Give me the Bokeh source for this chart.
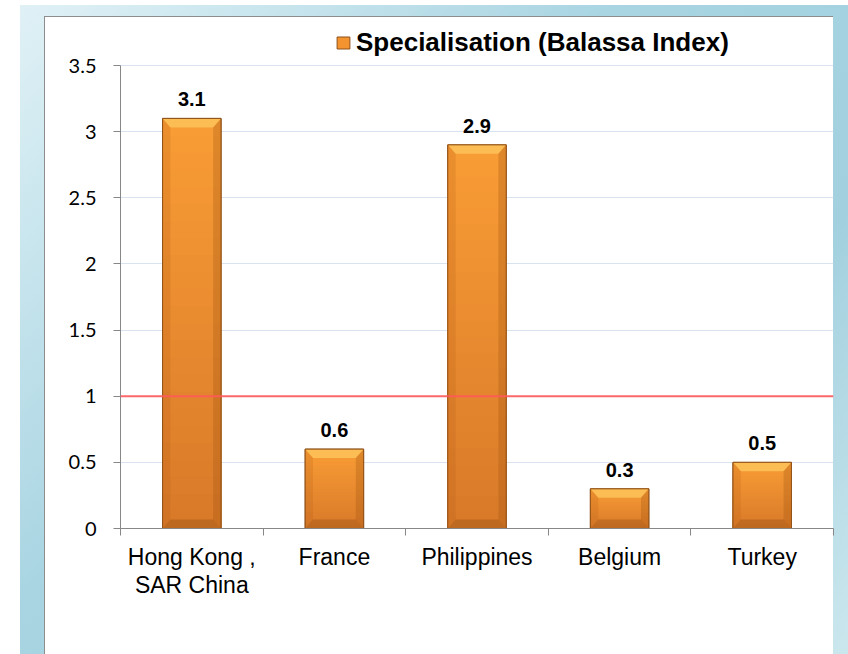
import numpy as np
from bokeh.plotting import figure
from bokeh.models import Range1d, FixedTicker, Legend, LegendItem, Span
from bokeh.core.properties import value
from bokeh.embed import file_html
from bokeh.resources import INLINE

# ---- data ----
countries = ["Hong Kong ,\nSAR China", "France", "Philippines", "Belgium", "Turkey"]
balassa = [3.1, 0.6, 2.9, 0.3, 0.5]
value_labels = ["3.1", "0.6", "2.9", "0.3", "0.5"]
y_ticks = [0.0, 0.5, 1.0, 1.5, 2.0, 2.5, 3.0, 3.5]
y_tick_labels = ["0", "0.5", "1", "1.5", "2", "2.5", "3", "3.5"]
series_name = "Specialisation (Balassa Index)"
threshold = 1.0

# ---- geometry / style ----
xs = np.arange(len(countries), dtype=float)
vals = np.array(balassa, dtype=float)
W = 0.41          # bar width (category units)
BX = 0.055        # bevel inset x (units)
BY = 0.068        # bevel inset y (units)

FIG_W, FIG_H = 848, 654
FR_LEFT, FR_RIGHT, FR_TOP, FR_BOTTOM = 120, 833, 25, 528   # frame in pixels
AXIS_TOP_PX = 65                                            # where 3.5 sits
y_axis_max = max(y_ticks)
y_top = y_axis_max * (FR_BOTTOM - FR_TOP) / (FR_BOTTOM - AXIS_TOP_PX)

frame_css = {
    "background-image": (
        "linear-gradient(#ffffff,#ffffff), "
        "linear-gradient(#8d8d8d,#8d8d8d), "
        "linear-gradient(135deg, #e0f1f6 0%, #a9d5e2 40%, #a2d0de 70%, #cbe7ee 100%)"
    ),
    "background-size": "788px 637px, 789px 638px, 828px 649px",
    "background-position": "45px 17px, 44px 16px, 20px 5px",
    "background-repeat": "no-repeat",
}

p = figure(width=FIG_W, height=FIG_H, output_backend="svg", toolbar_location=None,
           x_range=Range1d(-0.5, len(countries) - 0.5), y_range=Range1d(0, y_top),
           min_border_left=FR_LEFT, min_border_right=FIG_W - FR_RIGHT,
           min_border_top=FR_TOP, min_border_bottom=FIG_H - FR_BOTTOM,
           border_fill_color=None, background_fill_alpha=0, outline_line_color=None,
           styles=frame_css)

# grid
p.xgrid.visible = False
p.ygrid.ticker = FixedTicker(ticks=y_ticks)
p.ygrid.grid_line_color = "#D8E3EF"
p.ygrid.grid_line_width = 1

# base bars (also legend glyph)
left = xs - W / 2
right = xs + W / 2
base = p.quad(left=left, right=right, bottom=0, top=vals,
              fill_color="#F39430", line_color="#8E5019", line_width=1)

# vertical gradient inside each bar
N = 24
top_col = np.array([0xF9, 0x9D, 0x35], dtype=float)
bot_col = np.array([0xD8, 0x79, 0x29], dtype=float)
for k in range(N):
    frac = (N - k) / N
    t = (k + 0.5) / N
    c = top_col * (1 - t) + bot_col * t
    col = "#%02X%02X%02X" % tuple(int(round(v)) for v in c)
    p.quad(left=left, right=right, bottom=0, top=vals * frac,
           fill_color=col, line_color=None)

# bevels
top_xs, top_ys, l_xs, l_ys, r_xs, r_ys, b_xs, b_ys = [], [], [], [], [], [], [], []
for x0, v in zip(xs, vals):
    L, R = x0 - W / 2, x0 + W / 2
    top_xs.append([L, R, R - BX, L + BX]); top_ys.append([v, v, v - BY, v - BY])
    l_xs.append([L, L + BX, L + BX, L]); l_ys.append([v, v - BY, BY, 0])
    r_xs.append([R, R - BX, R - BX, R]); r_ys.append([v, v - BY, BY, 0])
    b_xs.append([L, R, R - BX, L + BX]); b_ys.append([0, 0, BY, BY])
p.patches(xs=top_xs, ys=top_ys, fill_color="#FDC35A", fill_alpha=0.85, line_color=None)
p.patches(xs=l_xs, ys=l_ys, fill_color="#B35A12", fill_alpha=0.20, line_color=None)
p.patches(xs=r_xs, ys=r_ys, fill_color="#9C4E10", fill_alpha=0.28, line_color=None)
p.patches(xs=b_xs, ys=b_ys, fill_color="#7A3C0C", fill_alpha=0.28, line_color=None)
p.quad(left=left, right=right, bottom=0, top=vals,
       fill_color=None, line_color="#8E5019", line_width=1)

# value labels
p.text(x=xs, y=vals, text=value_labels, text_align="center", text_baseline="bottom",
       y_offset=-12, text_font=value("Liberation Sans"), text_font_style="bold",
       text_font_size="20px", text_color="black")

# threshold line
p.add_layout(Span(location=threshold, dimension="width", line_color="#FF5A5A",
                  line_width=2, line_alpha=0.9))

# axes
ax = p.xaxis[0]
ax.ticker = FixedTicker(ticks=list(xs), minor_ticks=[i - 0.5 for i in range(len(countries) + 1)])
ax.major_label_overrides = {float(i): c for i, c in zip(xs, countries)}
ax.major_tick_out = 0
ax.major_tick_in = 0
ax.minor_tick_out = 7
ax.minor_tick_in = 0
ax.minor_tick_line_color = "#878787"
ax.axis_line_color = "#878787"
ax.major_label_text_font = "Liberation Sans"
ax.major_label_text_font_size = "23px"
ax.major_label_text_color = "black"
ax.major_label_text_line_height = 1.1
ax.major_label_standoff = 8

ay = p.yaxis[0]
ay.ticker = FixedTicker(ticks=y_ticks)
ay.bounds = (0, y_axis_max)
ay.major_label_overrides = {float(t): s for t, s in zip(y_ticks, y_tick_labels)}
ay.major_tick_out = 7
ay.major_tick_in = 0
ay.minor_tick_out = 0
ay.minor_tick_in = 0
ay.major_tick_line_color = "#878787"
ay.axis_line_color = "#878787"
ay.major_label_text_font = "Lato"
ay.major_label_text_font_size = "20px"
ay.major_label_text_color = "black"
ay.major_label_standoff = 17

# legend (inside the extended frame, above the 3.5 line)
legend = Legend(items=[LegendItem(label=series_name, renderers=[base])],
                location=(215, 470), orientation="horizontal", padding=0, margin=0,
                border_line_color=None, background_fill_alpha=0,
                glyph_width=16, glyph_height=15, label_standoff=5,
                label_text_font="Liberation Sans", label_text_font_style="bold",
                label_text_font_size="26px", label_text_color="black")
p.add_layout(legend)

open("out.html", "w").write(file_html(p, INLINE))
